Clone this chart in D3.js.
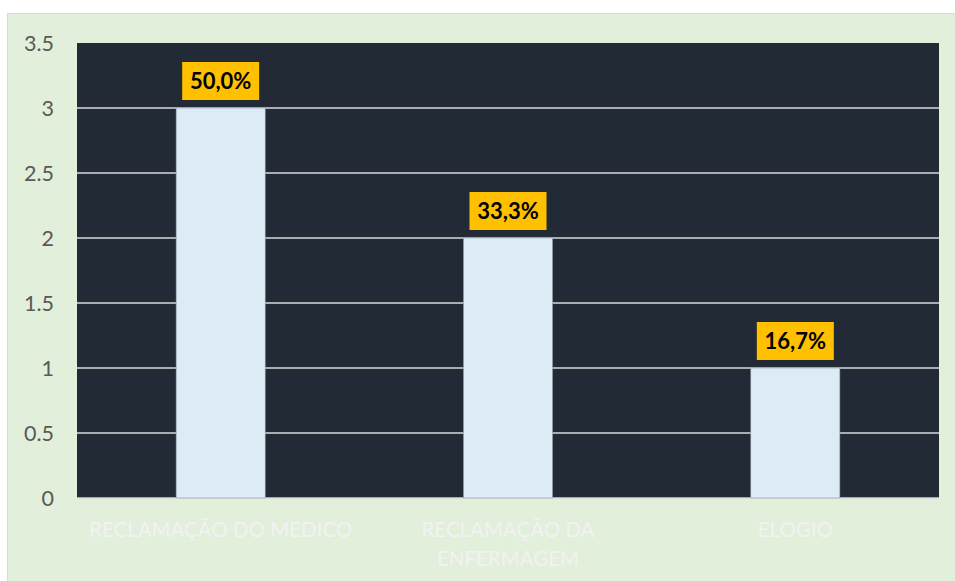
<!DOCTYPE html>
<html>
<head>
<meta charset="utf-8">
<script src="https://cdn.jsdelivr.net/npm/d3@7"></script>
<style>
  body { margin: 0; background: #fff; }
  svg { display: block; }
</style>
</head>
<body>
<svg width="955" height="581"></svg>
<script>
const categories = [["RECLAMAÇÃO DO MEDICO"], ["RECLAMAÇÃO DA", "ENFERMAGEM"], ["ELOGIO"]];
const values = [3, 2, 1];
const pctLabels = ["50,0%", "33,3%", "16,7%"];
const yTicks = [0, 0.5, 1, 1.5, 2, 2.5, 3, 3.5];

let sv = d3.select("svg");
const m = { left: 77, right: 939, top: 43, bottom: 498 };
const font = "Lato, 'Open Sans', sans-serif";

// chart area
sv.append("rect")
  .attr("x", 7.5).attr("y", 13.5)
  .attr("width", 960).attr("height", 580)
  .attr("fill", "#e2efda")
  .attr("stroke", "#d9d9d9");

// plot area
sv.append("rect")
  .attr("x", m.left).attr("y", m.top)
  .attr("width", m.right - m.left).attr("height", m.bottom - m.top)
  .attr("fill", "#222a35");

const x = d3.scaleBand()
  .domain(d3.range(values.length))
  .range([m.left, m.right])
  .paddingInner(0.69)
  .paddingOuter(0.345);

const y = d3.scaleLinear().domain([0, 3.5]).range([m.bottom, m.top]);

// gridlines
sv.append("g")
  .selectAll("line")
  .data(yTicks.filter(function (t) { return t > 0 && t < 3.5; }))
  .enter()
  .append("line")
  .attr("x1", m.left).attr("x2", m.right)
  .attr("y1", function (t) { return y(t); })
  .attr("y2", function (t) { return y(t); })
  .attr("stroke", "#d9d9d9")
  .attr("stroke-width", 1.5);

// baseline
sv.append("line")
  .attr("x1", m.left).attr("x2", m.right)
  .attr("y1", y(0)).attr("y2", y(0))
  .attr("stroke", "#d9d9d9")
  .attr("stroke-width", 1.5);

// y tick labels
sv.append("g")
  .selectAll("text")
  .data(yTicks)
  .enter()
  .append("text")
  .attr("x", 54)
  .attr("y", function (t) { return y(t); })
  .attr("dy", "0.35em")
  .attr("text-anchor", "end")
  .attr("font-family", font)
  .attr("font-size", 21.5)
  .attr("fill", "#595959")
  .text(function (t) { return t; });

// bars
sv.append("g")
  .selectAll("rect")
  .data(values)
  .enter()
  .append("rect")
  .attr("x", function (d, i) { return x(i); })
  .attr("y", function (d) { return y(d); })
  .attr("width", x.bandwidth())
  .attr("height", function (d) { return y(0) - y(d); })
  .attr("fill", "#ddebf7")
  .attr("stroke", "#8f9aa6")
  .attr("stroke-width", 0.6);

// value labels
const lab = sv.append("g")
  .selectAll("g")
  .data(values)
  .enter()
  .append("g")
  .attr("transform", function (d, i) {
    return "translate(" + (x(i) + x.bandwidth() / 2) + "," + (y(d) - 27) + ")";
  });

lab.append("rect")
  .attr("x", -38.5).attr("y", -19)
  .attr("width", 77).attr("height", 38)
  .attr("fill", "#ffc000");

lab.append("text")
  .attr("text-anchor", "middle")
  .attr("dy", "0.36em")
  .attr("font-family", font)
  .attr("font-weight", "bold")
  .attr("font-size", 22)
  .attr("fill", "#000")
  .text(function (d, i) { return pctLabels[i]; });

// category labels
sv.append("g")
  .selectAll("text")
  .data(categories)
  .enter()
  .append("text")
  .attr("x", function (d, i) { return x(i) + x.bandwidth() / 2; })
  .attr("y", 529.5)
  .attr("text-anchor", "middle")
  .attr("font-family", font)
  .attr("font-size", 20.5)
  .attr("fill", "#f2f2f2")
  .each(function (d) {
    d3.select(this).selectAll("tspan")
      .data(d)
      .enter()
      .append("tspan")
      .attr("x", d3.select(this).attr("x"))
      .attr("dy", function (s, k) { return k === 0 ? "0.35em" : "1.44em"; })
      .text(function (s) { return s; });
  });
</script>
</body>
</html>
